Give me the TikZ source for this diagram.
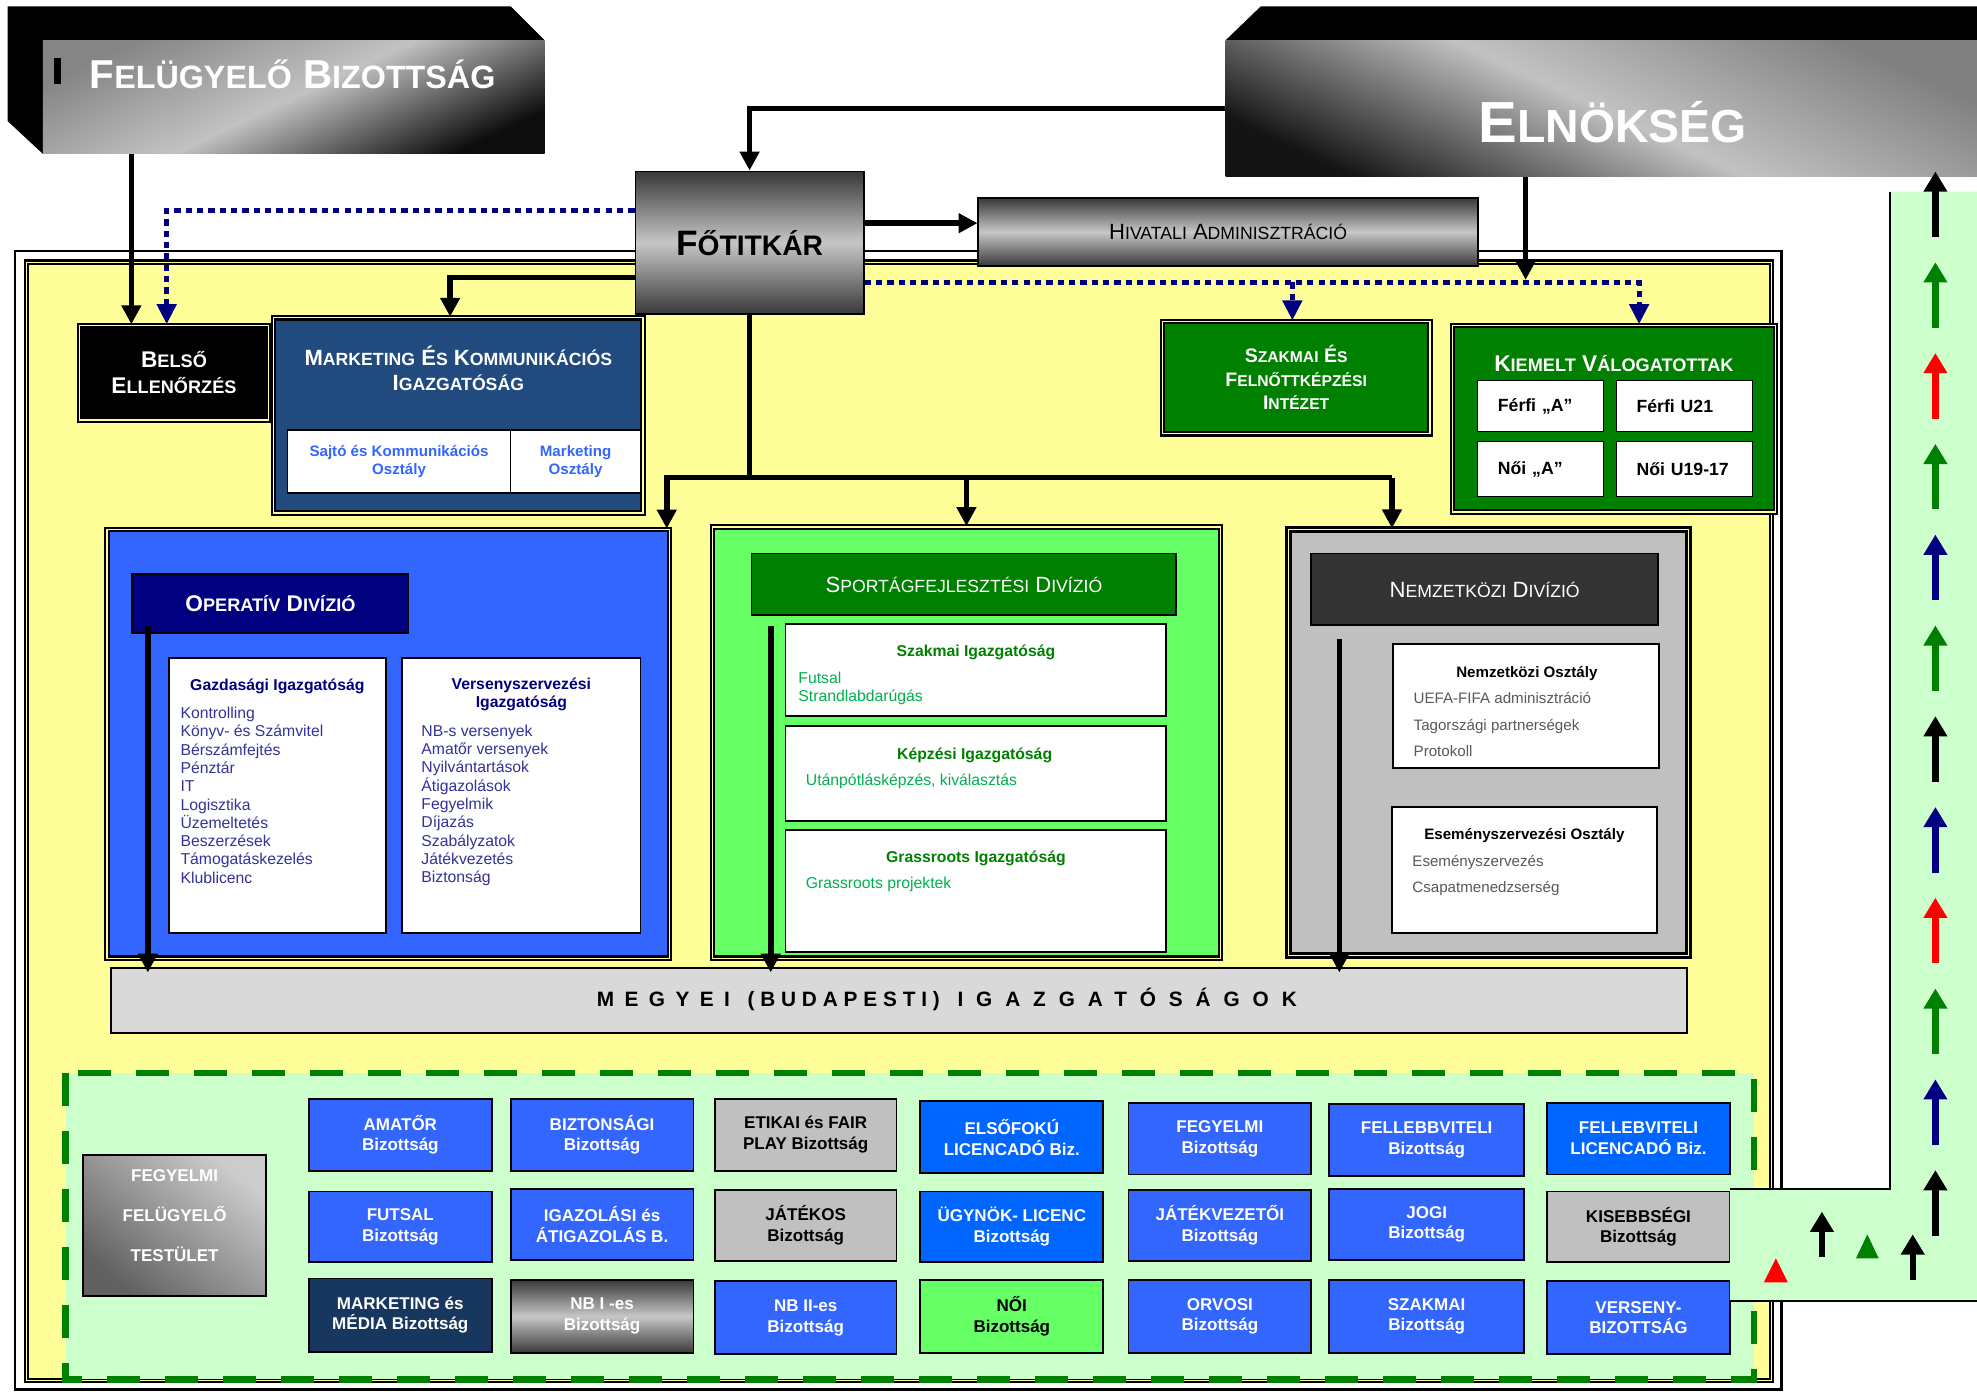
\documentclass[tikz,border=0pt]{standalone}
\usepackage{fontspec}
\setmainfont{Liberation Sans}
\newfontfamily\spreadfont[LetterSpace=50]{Liberation Sans}
\newfontfamily\spreadwide[LetterSpace=62]{Liberation Sans}
\newfontfamily\spreadmid[LetterSpace=28]{Liberation Sans}
\usepackage{graphicx}
\usetikzlibrary{arrows.meta,calc}

\definecolor{navy}{HTML}{000080}
\definecolor{divblue}{HTML}{3366FF}
\definecolor{brightblue}{HTML}{0066FF}
\definecolor{mkblue}{HTML}{214A7E}
\definecolor{mediablue}{HTML}{17375E}
\definecolor{darkgreen}{HTML}{008000}
\definecolor{litegreen}{HTML}{66FF66}
\definecolor{palegreen}{HTML}{CCFFCC}
\definecolor{paleyellow}{HTML}{FFFF99}
\definecolor{silver}{HTML}{C0C0C0}
\definecolor{charcoal}{HTML}{333333}
\definecolor{bargray}{HTML}{D9D9D9}
\definecolor{itemgreen}{HTML}{00B050}
\definecolor{itemnavy}{HTML}{333399}
\definecolor{itemgray}{HTML}{595959}

\newcommand\capw[2]{#1\scalebox{0.8}{#2}}
\newcommand\fsz[2]{\fontsize{#1}{#2}\selectfont}

\tikzset{
  orgbox/.style={draw, line width=1.5pt, inner sep=0pt, align=center},
  divframe/.style={draw, line width=1.6pt, double=paleyellow, double distance=1.2pt, inner sep=0pt, align=center},
  tube/.style={top color=black!78, bottom color=black!78, middle color=black!22},
  conn/.style={line width=4.5pt, -{Triangle[width=15pt,length=15pt]}},
  thickline/.style={line width=4.5pt},
  dotconn/.style={navy, line width=4pt, dash pattern=on 5pt off 4pt, -{Triangle[width=15pt,length=16pt]}},
  headtxt/.style={inner sep=0pt, font=\bfseries\fsz{12.5}{14.5}, align=center},
  listitem/.style={anchor=base west, inner sep=0pt, font=\fsz{12.5}{14.5}},
  cmte/.style={orgbox, fill=divblue, text=white, minimum width=145pt, minimum height=57pt, font=\bfseries\fsz{13.5}{16.5}},
  cmtgray/.style={fill=silver, text=black},
  team/.style={orgbox, line width=1pt, fill=white, align=left, font=\bfseries\fsz{14}{16}, minimum height=41pt},
  upar/.style={line width=5pt, -{Triangle[width=18pt,length=16pt]}},
}

\begin{document}
\begin{tikzpicture}[x=1pt, y=-1pt]

    \useasboundingbox (0,0) rectangle (1568,1104);
    \fill[white] (0,0) rectangle (1568,1104);

    % outer frame
    \draw[line width=2pt] (12,199) rectangle (1413,1102);
    \draw[line width=1.6pt, double=paleyellow, double distance=1.2pt, fill=paleyellow] (21,208) rectangle (1405,1095);

    % top boxes
    \fill (6,5) -- (405,5) -- (432,32) -- (34,32) -- (34,122) -- (6,96) -- cycle;
    \node[inner sep=0pt, minimum width=398pt, minimum height=90pt, top color=black!48, bottom color=black!95, middle color=black!24, shading angle=25] (felugy) at (233,77) {};
    \fill (43,46) rectangle (48,67);
    \node[text=white, font=\bfseries\fsz{32}{36}, anchor=base] (felugytxt) at (232,70) {\capw{F}{ELÜGYELŐ} \capw{B}{IZOTTSÁG}};

    \fill (1000,5) -- (1568,5) -- (1568,32) -- (972,32) -- cycle;
    \node[inner sep=0pt, minimum width=596pt, minimum height=108pt, top color=black!50, bottom color=black!92, middle color=black!24, shading angle=-25] (elnok) at (1270,86) {};
    \node[text=white, font=\bfseries\fsz{46}{50}, anchor=base] (elnoktxt) at (1279,113) {\capw{E}{LNÖKSÉG}};

    \node[orgbox, tube, minimum width=181pt, minimum height=113pt, font=\bfseries\fsz{28}{32}] (fotitkar) at (594.5,192.5) {\capw{F}{ŐTITKÁR}};
    \node[orgbox, tube, minimum width=396pt, minimum height=54pt, font=\fsz{17.5}{20}] (hivatal) at (974,184) {\capw{H}{IVATALI} \capw{A}{DMINISZTRÁCIÓ}};

    \node[divframe, fill=black, text=white, minimum width=150pt, minimum height=75pt, font=\bfseries\fsz{18}{20}] (belso) at (138,295.5) {\capw{B}{ELSŐ}\\\capw{E}{LLENŐRZÉS}};

    \node[divframe, fill=mkblue, minimum width=293pt, minimum height=155pt] (marketing) at (363.5,329.5) {};
    \node[text=white, align=center, inner sep=0pt, font=\bfseries\fsz{17.5}{20}] (mktitle) at (363.5,292) {\capw{M}{ARKETING} \capw{É}{S} \capw{K}{OMMUNIKÁCIÓS}\\\capw{I}{GAZGATÓSÁG}};
    \node[orgbox, line width=1pt, fill=white, text=divblue, minimum width=177pt, minimum height=50pt, font=\bfseries\fsz{12}{14}] (sajto) at (316.5,366) {Sajtó és Kommunikációs\\Osztály};
    \node[orgbox, line width=1pt, fill=white, text=divblue, minimum width=103pt, minimum height=50pt, font=\bfseries\fsz{12}{14}] (mkoszt) at (456.5,366) {Marketing\\Osztály};

    \node[divframe, fill=darkgreen, text=white, minimum width=212pt, minimum height=89pt, font=\bfseries\fsz{15.5}{18.5}] (szint) at (1028,299.5) {\capw{S}{ZAKMAI} \capw{É}{S}\\\capw{F}{ELNŐTTKÉPZÉSI}\\\capw{I}{NTÉZET}};

    \node[divframe, fill=darkgreen, minimum width=256pt, minimum height=148pt] (kiemelt) at (1280,332) {};
    \node[text=white, inner sep=0pt, font=\bfseries\fsz{18}{20}] (kvtitle) at (1280,288) {\capw{K}{IEMELT} \capw{V}{ÁLOGATOTTAK}};
    \node[team, minimum width=100pt, text width=68pt] (ffa) at (1222,322) {Férfi „A”};
    \node[team, minimum width=108pt, text width=76pt] (ffu) at (1336,322) {Férfi U21};
    \node[team, minimum width=100pt, text width=68pt, minimum height=44pt] (nna) at (1222,372) {Női „A”};
    \node[team, minimum width=108pt, text width=76pt, minimum height=44pt] (nnu) at (1336,372) {Női U19-17};

    % operatív divízió
    \node[divframe, fill=divblue, minimum width=446pt, minimum height=340pt] (operativ) at (308,590) {};
    \node[orgbox, fill=navy, text=white, minimum width=219pt, minimum height=47pt, font=\bfseries\fsz{18}{20}] (opertitle) at (214.5,478.5) {\capw{O}{PERATÍV} \capw{D}{IVÍZIÓ}};
    \node[orgbox, fill=white, minimum width=172pt, minimum height=218pt] (gazd) at (220,631) {};
    \node[orgbox, fill=white, minimum width=189pt, minimum height=218pt] (verseny) at (413.5,631) {};
    \node[headtxt, text=navy, anchor=base] (gazdtitle) at (220,548) {Gazdasági Igazgatóság};
    \node[headtxt, text=navy] (verstitle) at (413.5,551) {Versenyszervezési\\Igazgatóság};
    \foreach \t [count=\i] in {Kontrolling, Könyv- és Számvitel, Bérszámfejtés, Pénztár, IT, Logisztika, Üzemeltetés, Beszerzések, Támogatáskezelés, Klublicenc}
        \node[listitem, text=itemnavy] (gz\i) at (143,{570+14.5*(\i-1)}) {\t};
    \foreach \t [count=\i] in {NB-s versenyek, Amatőr versenyek, Nyilvántartások, Átigazolások, Fegyelmik, Díjazás, Szabályzatok, Játékvezetés, Biztonság}
        \node[listitem, text=itemnavy] (vs\i) at (334,{584+14.5*(\i-1)}) {\t};

    % sportágfejlesztési divízió
    \node[divframe, fill=litegreen, minimum width=403pt, minimum height=342pt] (sportag) at (766.5,589) {};
    \node[orgbox, fill=darkgreen, text=white, minimum width=337pt, minimum height=49pt, font=\fsz{17.5}{20}] (sporttitle) at (764.5,463.5) {\capw{S}{PORTÁGFEJLESZTÉSI} \capw{D}{IVÍZIÓ}};
    \node[orgbox, fill=white, minimum width=302pt, minimum height=73pt] (szig) at (774,531.5) {};
    \node[orgbox, fill=white, minimum width=302pt, minimum height=75pt] (kepz) at (774,613.5) {};
    \node[orgbox, fill=white, minimum width=302pt, minimum height=97pt] (grass) at (774,706.5) {};
    \node[headtxt, text=darkgreen, anchor=base] (szigtitle) at (774,521) {Szakmai Igazgatóság};
    \node[listitem, text=itemgreen] (sz1) at (633,542) {Futsal};
    \node[listitem, text=itemgreen] (sz2) at (633,556) {Strandlabdarúgás};
    \node[headtxt, text=darkgreen, anchor=base] (kepztitle) at (773,602) {Képzési Igazgatóság};
    \node[listitem, text=itemgreen] (kp1) at (639,623) {Utánpótlásképzés, kiválasztás};
    \node[headtxt, text=darkgreen, anchor=base] (grasstitle) at (774,684) {Grassroots Igazgatóság};
    \node[listitem, text=itemgreen] (gr1) at (639,705) {Grassroots projektek};

    % nemzetközi divízió
    \node[divframe, line width=2pt, fill=silver, minimum width=317pt, minimum height=338pt] (nemzet) at (1180.5,589) {};
    \node[orgbox, fill=charcoal, text=white, minimum width=275pt, minimum height=57pt, font=\fsz{17.5}{20}] (nemtitle) at (1177.5,467.5) {\capw{N}{EMZETKÖZI} \capw{D}{IVÍZIÓ}};
    \node[orgbox, fill=white, minimum width=211pt, minimum height=98pt] (nosz) at (1210.5,560) {};
    \node[orgbox, fill=white, minimum width=210pt, minimum height=100pt] (esem) at (1209,690) {};
    \node[headtxt, font=\bfseries\fsz{12}{14}, anchor=base] (nosztitle) at (1211,537) {Nemzetközi Osztály};
    \foreach \t [count=\i] in {UEFA-FIFA adminisztráció, Tagországi partnerségek, Protokoll}
        \node[listitem, text=itemgray, font=\fsz{12}{14}] (no\i) at (1121,{558+21*(\i-1)}) {\t};
    \node[headtxt, font=\bfseries\fsz{12}{14}, anchor=base] (esemtitle) at (1209,666) {Eseményszervezési Osztály};
    \foreach \t [count=\i] in {Eseményszervezés, Csapatmenedzserség}
        \node[listitem, text=itemgray, font=\fsz{12}{14}] (es\i) at (1120,{687+21*(\i-1)}) {\t};

    % megyei igazgatóságok
    \node[orgbox, fill=bargray, minimum width=1250pt, minimum height=51pt] (megyei) at (713,793.5) {};
    \node[font=\bfseries\fsz{16.5}{18}] (megyeitxt) at (751,793) {{\spreadfont MEGYEI}\hspace{14pt}{\spreadmid(BUDAPESTI)}\hspace{14pt}{\spreadwide IGAZGATÓSÁGOK}};

    % edges
    \coordinate (fb) at ($(belso.north west)+(42,0)$);
    \coordinate (fd) at ($(belso.north west)+(70,0)$);
    \draw[dotconn] ($(fotitkar.west)+(0,-25.5)$) -| (fd); % Főtitkár -> Belső
    \draw[conn] (fb |- felugy.south) -- (fb); % Felügyelő -> Belső
    \draw[conn] (elnok.west) -| (fotitkar.north); % Elnökség -> Főtitkár
    \coordinate (fh) at ($(fotitkar.east)+(0,-15.5)$);
    \draw[conn] (fh) -- (fh -| hivatal.west); % Főtitkár -> Hivatali
    \coordinate (fm) at ($(marketing.north)+(-6.5,0)$);
    \draw[conn] ($(fotitkar.west)+(0,27.5)$) -| (fm); % Főtitkár -> Marketing

    \coordinate (dl) at ($(fotitkar.east)+(0,31.5)$);
    \coordinate (fk) at ($(kiemelt.north)+(20,0)$);
    \coordinate (fs) at ($(szint.north)+(-3,0)$);
    \draw[dotconn] (dl) -| (fk); % Főtitkár -> Kiemelt
    \draw[dotconn] (fs |- dl) -- (fs); % Főtitkár -> Szakmai
    \coordinate (ed) at (1210,222);
    \draw[conn] (ed |- elnok.south) -- (ed); % Elnökség -> line

    \coordinate (bus) at ($(fotitkar.south)+(0,129)$);
    \coordinate (op) at ($(operativ.north east)+(-3,0)$);
    \coordinate (nz) at ($(nemzet.north west)+(83,0)$);
    \draw[thickline] (fotitkar.south) -- (bus);
    \draw[conn] (nz |- bus) -- (op |- bus) -- (op); % -> Operatív
    \draw[conn] (sportag.north |- bus) -- (sportag.north); % -> Sportág
    \draw[conn] (nz |- bus) -- (nz); % -> Nemzetközi

    \coordinate (oa) at ($(opertitle.south west)+(13,-6)$);
    \coordinate (sa) at ($(sporttitle.south west)+(16,8)$);
    \coordinate (na) at ($(nemtitle.south west)+(23,10)$);
    \draw[conn, shorten >=-4pt] (oa) -- (oa |- megyei.north);
    \draw[conn, shorten >=-4pt] (sa) -- (sa |- megyei.north);
    \draw[conn, shorten >=-4pt] (na) -- (na |- megyei.north);

    % bizottságok
    \draw[line width=5pt, darkgreen, dash pattern=on 26pt off 20pt, fill=palegreen] (52,851) rectangle (1391,1094);
    \node[orgbox, top color=black!20, bottom color=black!62, shading angle=-40, minimum width=145pt, minimum height=112pt] (felt) at (138.5,972) {};
    \node[text=white, align=center, inner sep=0pt, font=\bfseries\fsz{13.5}{31.5}] (felttxt) at (138.5,964) {FEGYELMI\\FELÜGYELŐ\\TESTÜLET};

    \node[cmte] (amator) at (317.5,900) {AMATŐR\\Bizottság};
    \node[cmte] (bizt) at (477.5,900) {BIZTONSÁGI\\Bizottság};
    \node[cmte, cmtgray, minimum width=144pt] (etikai) at (639,900) {ETIKAI és FAIR\\PLAY Bizottság};
    \node[cmte, fill=brightblue] (elsofok) at (802.5,902) {ELSŐFOKÚ\\LICENCADÓ Biz.};
    \node[cmte] (fegy) at (967.5,903) {FEGYELMI\\Bizottság};
    \node[cmte, minimum width=155pt] (fell) at (1131.5,904) {FELLEBBVITELI\\Bizottság};
    \node[cmte, fill=brightblue] (fellic) at (1299.5,903) {FELLEBVITELI\\LICENCADÓ Biz.};

    \node[cmte, minimum height=56pt] (futsal) at (317.5,973) {FUTSAL\\Bizottság};
    \node[cmte, minimum height=56pt] (igazol) at (477.5,971) {IGAZOLÁSI és\\ÁTIGAZOLÁS B.};
    \node[cmte, cmtgray, minimum width=144pt, minimum height=56pt] (jatekos) at (639,972) {JÁTÉKOS\\Bizottság};
    \node[cmte, fill=brightblue, minimum height=56pt] (ugynok) at (802.5,973) {ÜGYNÖK- LICENC\\Bizottság};
    \node[cmte, minimum height=56pt] (jatekv) at (967.5,972) {JÁTÉKVEZETŐI\\Bizottság};
    \node[cmte, minimum width=155pt, minimum height=56pt] (jogi) at (1131.5,971) {JOGI\\Bizottság};
    \node[cmte, cmtgray, minimum height=56pt] (kisebb) at (1299.5,973) {KISEBBSÉGI\\Bizottság};

    \node[cmte, fill=mediablue, minimum height=58pt] (mkmedia) at (317.5,1043) {MARKETING és\\MÉDIA Bizottság};
    \node[cmte, tube, minimum height=58pt] (nbegy) at (477.5,1044) {NB I -es\\Bizottság};
    \node[cmte, minimum width=144pt, minimum height=58pt] (nbketto) at (639,1045) {NB II-es\\Bizottság};
    \node[cmte, fill=litegreen, text=black, minimum height=58pt] (noi) at (802.5,1044) {NŐI\\Bizottság};
    \node[cmte, minimum height=58pt] (orvosi) at (967.5,1044) {ORVOSI\\Bizottság};
    \node[cmte, minimum width=155pt, minimum height=58pt] (szakb) at (1131.5,1044) {SZAKMAI\\Bizottság};
    \node[cmte, minimum height=58pt] (versb) at (1299.5,1045) {VERSENY-\\BIZOTTSÁG};

    % arrow strip
    \fill[palegreen] (1499,152) -- (1568,152) -- (1568,1032) -- (1372,1032) -- (1372,943) -- (1499,943) -- cycle;
    \draw[line width=1pt] (1499,152) -- (1499,943) -- (1372,943);
    \draw[line width=1.5pt] (1372,1032) -- (1568,1032);
    \foreach \y/\clr in {136/black, 208/darkgreen, 280/red, 352/darkgreen, 424/navy, 496/darkgreen, 568/black, 640/navy, 712/red, 784/darkgreen, 856/navy, 928/black}
        \draw[upar, \clr] (1535,{\y+52}) -- (1535,\y);
    \fill[red] (1399,1017) -- (1408.5,998) -- (1418,1017) -- cycle;
    \draw[upar, black] (1445,997) -- (1445,961);
    \fill[darkgreen] (1472,998) -- (1481,979) -- (1490,998) -- cycle;
    \draw[upar, black] (1517,1015) -- (1517,979);

\end{tikzpicture}
\end{document}
